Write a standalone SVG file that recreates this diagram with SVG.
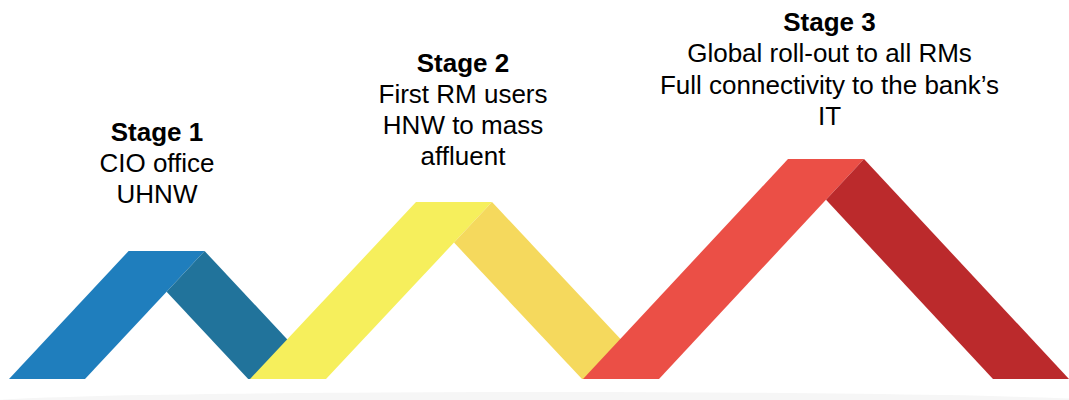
<svg xmlns="http://www.w3.org/2000/svg" width="1069" height="400" viewBox="0 0 1069 400">
<style>
.t{font-family:"Liberation Sans",Arial,sans-serif;font-size:26px;fill:#000;text-anchor:middle}
.b{font-weight:bold}
</style>
<rect width="1069" height="400" fill="#fff"/>
<ellipse id="shadow" cx="545" cy="402.5" rx="565" ry="10.5" fill="#f6f6f6"/>
<g id="stage1">
<polygon points="9,379 128.6,251 204.6,251 166.6,291.7 85,379" fill="#1f7ebd"/>
<polygon points="204.6,251 324.2,379 248.2,379 166.6,291.7" fill="#21739b"/>
<text class="t b" x="157" y="141">Stage 1</text>
<text class="t" x="157" y="172">CIO office</text>
<text class="t" x="157" y="203">UHNW</text>
</g>
<g id="stage2">
<polygon points="250,379 416,202 492,202 454,242.6 326,379" fill="#f6ef5c"/>
<polygon points="492,202 658,379 582,379 454,242.6" fill="#f5d95d"/>
<text class="t b" x="463" y="72">Stage 2</text>
<text class="t" x="463" y="103">First RM users</text>
<text class="t" x="463" y="134">HNW to mass</text>
<text class="t" x="463" y="165">affluent</text>
</g>
<g id="stage3">
<polygon points="583,379 788,159 864,159 826,199.8 659,379" fill="#eb4f46"/>
<polygon points="864,159 1069,379 993,379 826,199.8" fill="#bb2a2c"/>
<text class="t b" x="829.5" y="31">Stage 3</text>
<text class="t" x="829.5" y="62">Global roll-out to all RMs</text>
<text class="t" x="829.5" y="94">Full connectivity to the bank’s</text>
<text class="t" x="829.5" y="125">IT</text>
</g>
<g id="connectors"/>
</svg>
